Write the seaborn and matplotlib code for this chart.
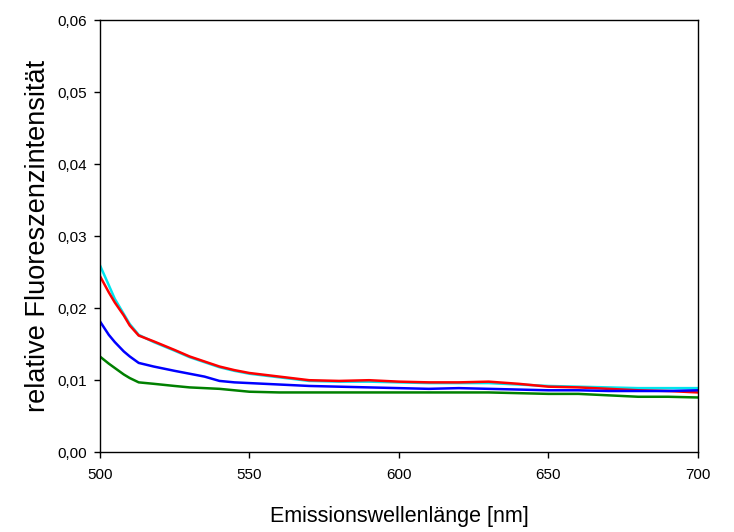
import numpy as np
import pandas as pd
import matplotlib
matplotlib.use('Agg')
import matplotlib.pyplot as plt
from matplotlib.ticker import FuncFormatter
import seaborn as sns

# wavelengths [nm]
wavelength = [500, 503, 505, 508, 510, 513, 518, 525, 530, 535, 540, 545, 550, 560, 570,
              580, 590, 600, 610, 620, 630, 640, 650, 660, 670, 680, 690, 700]

cyan_vals = [0.0260, 0.0232, 0.0213, 0.0192, 0.0178, 0.0163, 0.0153, 0.0141, 0.0132,
             0.0125, 0.0118, 0.0113, 0.0109, 0.0104, 0.0099, 0.0098, 0.0098, 0.0097,
             0.0096, 0.0096, 0.0096, 0.0094, 0.0092, 0.0091, 0.0090, 0.0089, 0.0089, 0.0089]
red_vals = [0.0245, 0.0222, 0.0208, 0.0190, 0.0176, 0.0162, 0.0154, 0.0142, 0.0133,
            0.0126, 0.0119, 0.0114, 0.0110, 0.0105, 0.0100, 0.0099, 0.0100, 0.0098,
            0.0097, 0.0097, 0.0098, 0.0095, 0.0091, 0.0090, 0.0088, 0.0086, 0.0085, 0.0083]
blue_vals = [0.0182, 0.0163, 0.0153, 0.0140, 0.0133, 0.0124, 0.0119, 0.0113, 0.0109,
             0.0105, 0.0099, 0.0097, 0.0096, 0.0094, 0.0092, 0.0091, 0.0090, 0.0089,
             0.0088, 0.0089, 0.0088, 0.0087, 0.0086, 0.0086, 0.0085, 0.0085, 0.0085, 0.0086]
green_vals = [0.0133, 0.0123, 0.0117, 0.0108, 0.0103, 0.0097, 0.0095, 0.0092, 0.0090,
              0.0089, 0.0088, 0.0086, 0.0084, 0.0083, 0.0083, 0.0083, 0.0083, 0.0083,
              0.0083, 0.0083, 0.0083, 0.0082, 0.0081, 0.0081, 0.0079, 0.0077, 0.0077, 0.0076]

series_names = ['cyan', 'red', 'blue', 'green']
series_colors = {'cyan': '#00E5EE', 'red': '#FF0000', 'blue': '#0000FF', 'green': '#008000'}

df = pd.concat([
    pd.DataFrame({'wl': wavelength, 'val': v, 'series': n})
    for n, v in zip(series_names, [cyan_vals, red_vals, blue_vals, green_vals])
])

sns.set_style('ticks')
plt.rcParams['font.family'] = ['Liberation Sans', 'DejaVu Sans']

fig = plt.figure(figsize=(7.34, 5.32), dpi=100)
ax = fig.add_axes([0.136, 0.150, 0.815, 0.812])

sns.lineplot(data=df, x='wl', y='val', hue='series', hue_order=series_names,
             palette=series_colors, linewidth=1.8, legend=False, ax=ax)

ax.set_xlim(500, 700)
ax.set_ylim(0, 0.06)
ax.set_xticks([500, 550, 600, 650, 700])
ax.set_yticks([0, 0.01, 0.02, 0.03, 0.04, 0.05, 0.06])
ax.yaxis.set_major_formatter(FuncFormatter(lambda v, p: f'{v:.2f}'.replace('.', ',')))
ax.tick_params(direction='out', length=4.5, width=1, labelsize=11,
               colors='black', labelcolor='black')
ax.tick_params(axis='y', pad=5)
ax.tick_params(axis='x', pad=7)

for s in ax.spines.values():
    s.set_visible(True)
    s.set_color('black')
    s.set_linewidth(1)

ax.set_xlabel('Emissionswellenlänge [nm]', fontsize=15.5, labelpad=17, color='black')
ax.set_ylabel('relative Fluoreszenzintensität', fontsize=19.5, labelpad=4, color='black')

fig.savefig('out.png', dpi=100)
